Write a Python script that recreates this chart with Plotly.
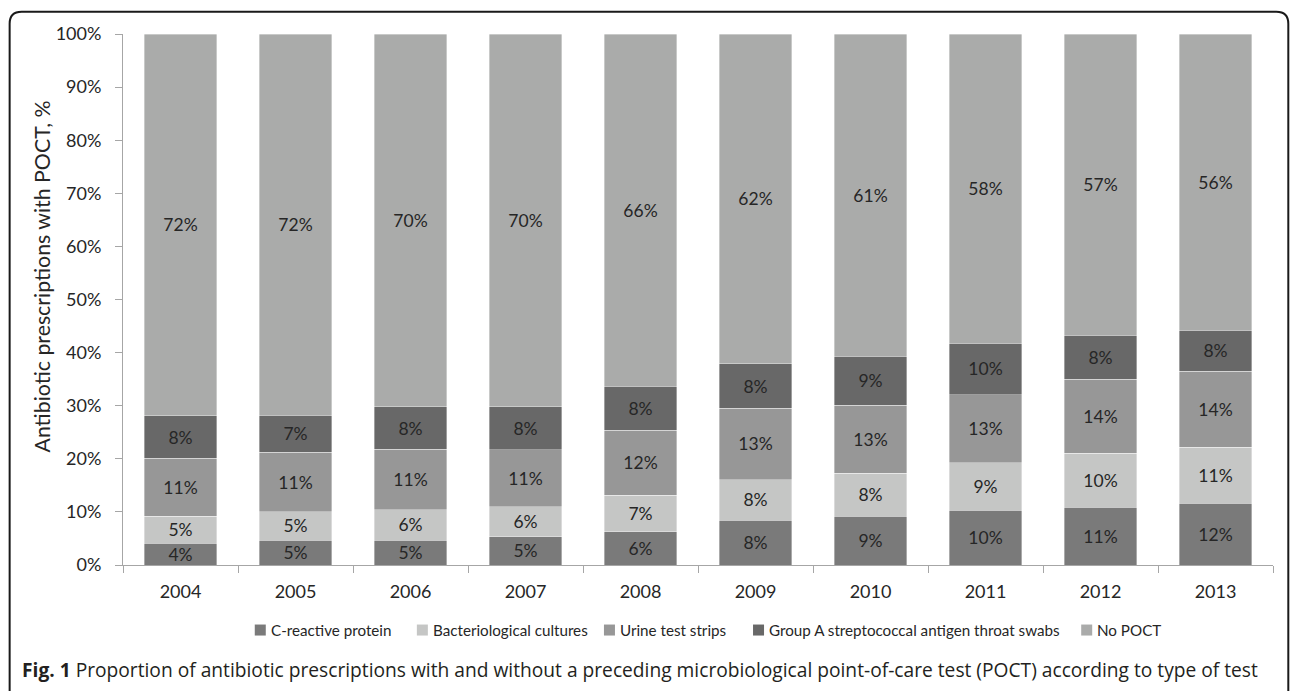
import plotly.graph_objects as go

# Share of antibiotic prescriptions (%) by preceding point-of-care test
years = ["2004", "2005", "2006", "2007", "2008", "2009", "2010", "2011", "2012", "2013"]
crp = [4.1, 4.7, 4.7, 5.3, 6.3, 8.4, 9.2, 10.3, 10.9, 11.6]
cultures = [5.1, 5.3, 5.7, 5.7, 6.8, 7.7, 8.1, 9.0, 10.1, 10.6]
urine = [10.9, 11.2, 11.4, 10.7, 12.3, 13.4, 12.8, 12.8, 14.0, 14.3]
strep_a = [8.0, 7.0, 8.0, 8.1, 8.3, 8.4, 9.2, 9.7, 8.3, 7.7]
no_poct = [71.9, 71.8, 70.2, 70.2, 66.3, 62.1, 60.7, 58.2, 56.7, 55.8]

series_names = ["C-reactive protein", "Bacteriological cultures", "Urine test strips",
                "Group A streptococcal antigen throat swabs", "No POCT"]
series_values = [crp, cultures, urine, strep_a, no_poct]
series_colors = ["#7a7a7a", "#c5c6c5", "#979797", "#686868", "#aaabaa"]

W, H = 1292, 691
L, R, T, B = 123.3, 1272.7, 34.3, 565.0  # plot area in pixels


def px(x):
    return (x - L) / (R - L)


def py(y):
    return (B - y) / (B - T)


FONT = "Lato, 'Open Sans', sans-serif"
TEXT = "#262626"

fig = go.Figure()
for name, vals, color in zip(series_names, series_values, series_colors):
    fig.add_trace(go.Bar(
        x=years, y=vals, name=name,
        marker=dict(color=color, line=dict(color="rgba(255,255,255,0.45)", width=0.8)),
        text=vals, texttemplate="%{y:.0f}%",
        textposition="inside", insidetextanchor="middle", textangle=0,
        textfont=dict(family=FONT, size=17.5, color=TEXT),
        hoverinfo="skip", showlegend=False,
    ))

# Rounded frame around the figure (open at the bottom edge)
r = 12
x0, x1, y0, y1 = 10, 1288, 12, 720
path = (f"M {px(x0)},{py(y1)} L {px(x0)},{py(y0 + r)} "
        f"Q {px(x0)},{py(y0)} {px(x0 + r)},{py(y0)} "
        f"L {px(x1 - r)},{py(y0)} Q {px(x1)},{py(y0)} {px(x1)},{py(y0 + r)} "
        f"L {px(x1)},{py(y1)}")
shapes = [dict(type="path", path=path, xref="paper", yref="paper",
               line=dict(color="#1a1a1a", width=2))]

annotations = [
    dict(text="Antibiotic prescriptions with POCT, %", textangle=-90,
         x=px(42), y=py(277), xref="paper", yref="paper",
         xanchor="center", yanchor="middle", showarrow=False,
         font=dict(family=FONT, size=21.3, color=TEXT)),
    dict(text="<b>Fig. 1</b> Proportion of antibiotic prescriptions with and without a preceding "
              "microbiological point-of-care test (POCT) according to type of test",
         x=px(20), y=py(669), xref="paper", yref="paper",
         xanchor="left", yanchor="middle", showarrow=False,
         font=dict(family="'Open Sans', sans-serif", size=19.2, color="#231f20")),
]

# Legend row: square key followed by the series name
legend_y = 630
key_x = [255, 417, 604, 753, 1081]
key = 11
for name, color, kx in zip(series_names, series_colors, key_x):
    shapes.append(dict(type="rect", xref="paper", yref="paper",
                       x0=px(kx), x1=px(kx + key),
                       y0=py(legend_y + key / 2), y1=py(legend_y - key / 2),
                       fillcolor=color, line=dict(width=0)))
    annotations.append(dict(text=name, x=px(kx + key + 3), y=py(legend_y),
                            xref="paper", yref="paper", xanchor="left", yanchor="middle",
                            showarrow=False, font=dict(family=FONT, size=15.2, color=TEXT)))

fig.update_layout(
    width=W, height=H,
    margin=dict(l=L, r=W - R, t=T, b=H - B, pad=0),
    paper_bgcolor="white", plot_bgcolor="white",
    barmode="stack", bargap=0.373,
    uniformtext=dict(minsize=17.5, mode="show"),
    font=dict(family=FONT, size=17, color=TEXT),
    showlegend=False,
    shapes=shapes,
    annotations=annotations,
)

fig.update_xaxes(
    type="category", showline=True, linecolor="#a6a6a6", linewidth=1,
    ticks="outside", tickson="boundaries", ticklen=7, tickcolor="#a6a6a6",
    tickfont=dict(family=FONT, size=18, color=TEXT), ticklabelstandoff=10,
    showgrid=False, zeroline=False,
)
fig.update_yaxes(
    range=[0, 100], dtick=10, ticksuffix="%", showline=True, linecolor="#a6a6a6",
    linewidth=1, ticks="outside", ticklen=7, tickcolor="#a6a6a6",
    tickfont=dict(family=FONT, size=18, color=TEXT),
    showgrid=False, zeroline=False, ticklabelstandoff=10,
)

fig.write_html("out.html")
